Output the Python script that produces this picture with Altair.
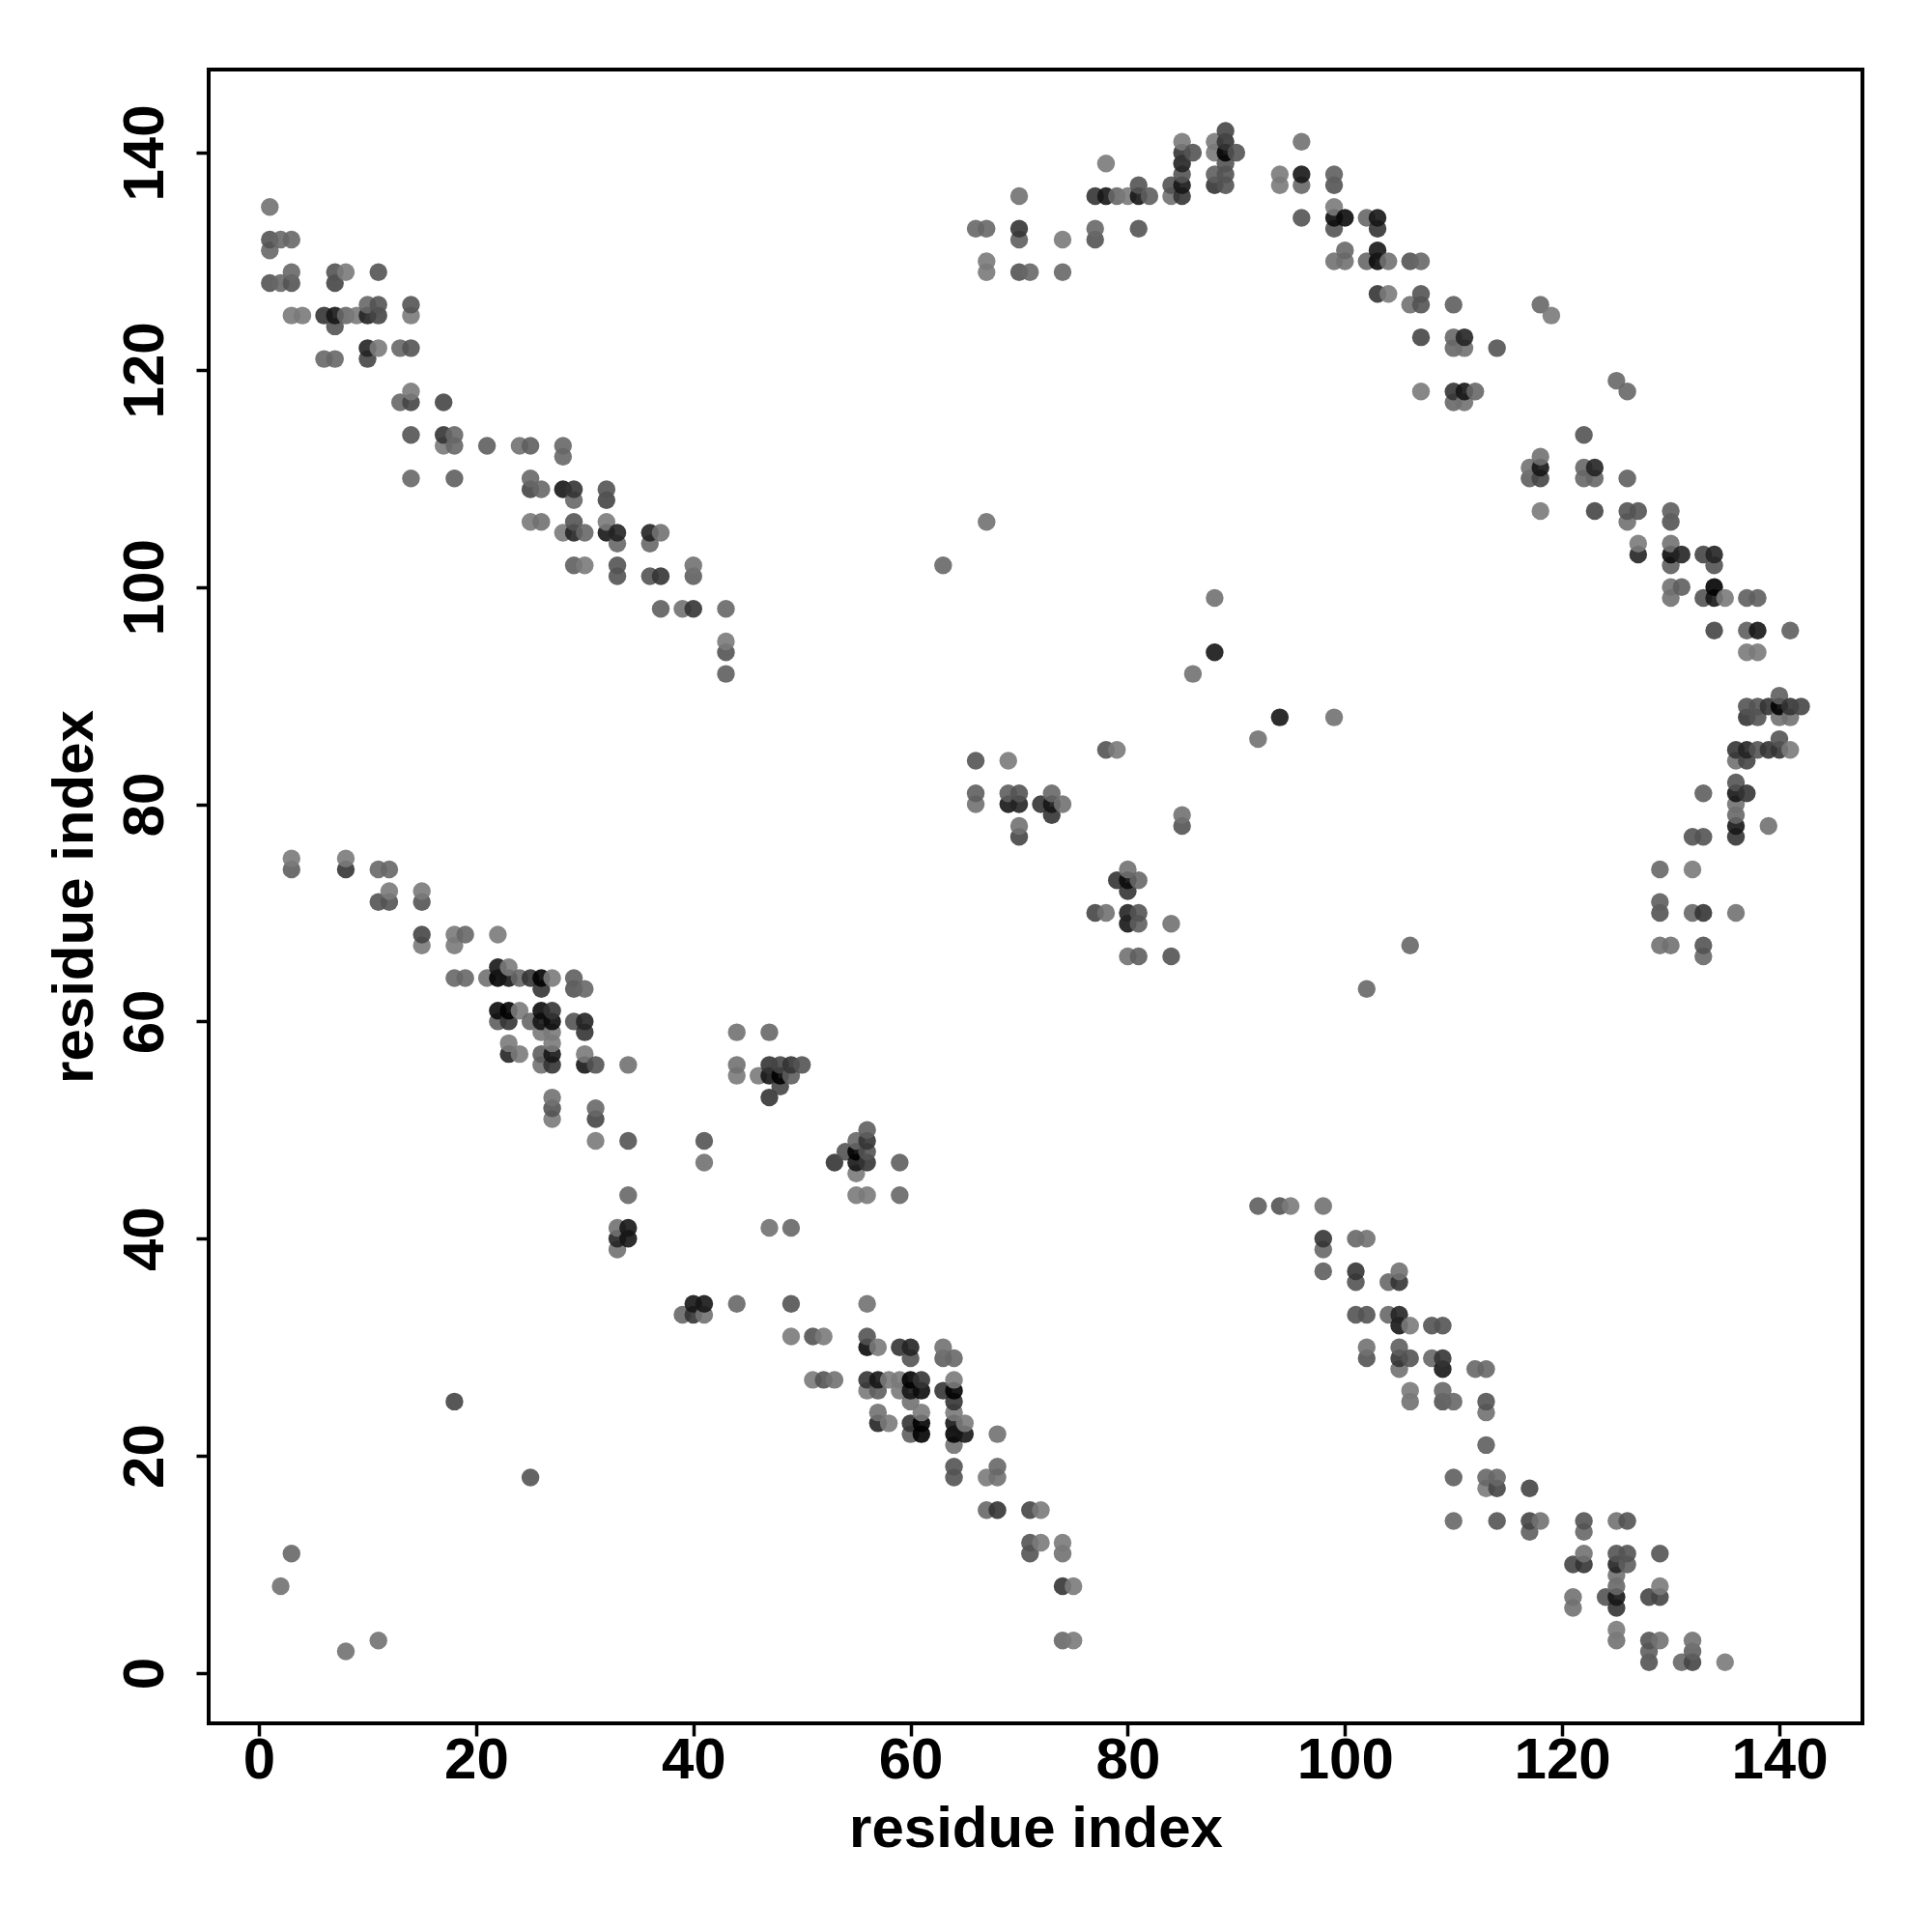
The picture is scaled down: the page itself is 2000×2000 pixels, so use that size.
import altair as alt
import pandas as pd

# residue contacts, one row per y value: (y, x values, shade levels 1 = lightest .. 6 = darkest)
ROWS = [
 (142,[89],[3.5]),
 (141,[85,88,89,96],[1,1,4,1.5]),
 (140,[85,86,88,89,90],[4,3,1,6,3]),
 (139,[78,85,89],[1,4.5,3]),
 (138,[85,88,89,94,96,99],[3,2.5,3,1,5,2.5]),
 (137,[81,84,85,88,89,94,96,99],[3,3,5,4,3,1,2,3]),
 (136,[70,77,78,79,80,81,82,84,85],[1.5,4,5,2,1,5,2.5,1.5,4]),
 (135,[1,99],[1.5,1]),
 (134,[96,99,100,102,103],[3,5.5,5.5,2,5]),
 (133,[66,67,70,77,81,99,103],[2,2,4,2,3,3,4]),
 (132,[1,2,3,70,74,77],[3,2,2,2.5,1,3]),
 (131,[1,100,103],[2,2,5]),
 (130,[67,99,100,102,103,104,106,107],[1,1.5,1.5,2,5.5,1.5,3,2]),
 (129,[3,7,8,11,67,70,71,74],[2,3,1,3,1,3,2,2]),
 (128,[1,2,3,7],[3,2,3,3.5]),
 (127,[103,104,107],[4,1,3]),
 (126,[10,11,14,106,107,110,118],[2,3,3,1.5,3,2.5,2]),
 (125,[3,4,6,7,8,9,10,11,14,119],[1,1,4,5,2,1,4.5,3.5,1,1]),
 (124,[7],[3]),
 (123,[107,110,111],[3.5,2,4.5]),
 (122,[10,11,13,14,110,111,114],[4.5,1,2,3,2,1.5,3]),
 (121,[6,7,10],[2,2,3.5]),
 (119,[125],[2]),
 (118,[14,107,110,111,112,126],[1,1,4,5,2,2]),
 (117,[13,14,17,110,111],[2,3.5,3.5,2,1.5]),
 (114,[14,17,18,122],[3,4,2,3]),
 (113,[17,18,21,24,25,28],[1,2,2.5,1.5,2.5,2]),
 (112,[28,118],[2,1.5]),
 (111,[117,118,122,123],[1.5,5,2,4.5]),
 (110,[14,18,25,117,118,122,123,126],[2,2.5,2,2.5,3.5,2,2,2.5]),
 (109,[25,26,28,29,32],[3.5,2,5,4,3]),
 (108,[29,32],[2,3.5]),
 (107,[118,123,126,127,130],[1,3.5,3,3,2.5]),
 (106,[25,26,29,32,67,126,130],[1,1.5,3,1,1.5,1.5,3]),
 (105,[28,29,30,32,33,36,37],[1,4.5,2,5,4.5,4.5,1.5]),
 (104,[33,36,127,130],[2,2,1,1.5]),
 (103,[127,130,131,133,134],[4.5,5.5,4.5,3.5,4.5]),
 (102,[29,30,33,40,63,130,134],[2.5,1,3,1.5,2,2.5,3]),
 (101,[33,36,37,40],[3,3,4,2.5]),
 (100,[130,131,134],[1.5,2.5,6]),
 (99,[88,130,133,134,135,137,138],[1.5,1.5,3,5,1,2.5,2.5]),
 (98,[37,39,40,43],[2.5,1.5,4,2]),
 (96,[134,137,138,141],[3.5,2.5,5,2.5]),
 (95,[43],[1]),
 (94,[43,88,137,138],[3,5,1,1]),
 (92,[43,86],[2.5,1.5]),
 (90,[140],[2.5]),
 (89,[137,138,139,140,141,142],[3,3,4,6,4,3.5]),
 (88,[94,99,137,138,140,141],[5,1.5,4,3,1.5,1.5]),
 (86,[92,140],[1.5,3]),
 (85,[78,79,136,137,138,139,140,141],[3,1,4,4.5,3,4,4,1]),
 (84,[66,69,136,137],[3,1,1.5,3.5]),
 (82,[136],[3]),
 (81,[66,69,70,73,133,136,137],[2.5,2.5,3,2,2.5,5,4]),
 (80,[66,69,70,72,73,74,136],[1.5,5,4.5,4,5,1.5,1.5]),
 (79,[73,85,136],[4,1.5,2]),
 (78,[70,85,136,139],[1.5,3,5,1.5]),
 (77,[70,132,133,136],[3.5,3,3,4]),
 (75,[3,8],[1,1]),
 (74,[3,8,11,12,80,129,132],[2.5,4,2,2,1.5,2,1]),
 (73,[79,80,81],[4,5.5,2]),
 (72,[12,15,80],[1,1,4]),
 (71,[11,12,15,129],[3,3,3,2.5]),
 (70,[77,78,80,81,129,132,133,136],[3.5,1.5,4.5,3,3,2,4,1.5]),
 (69,[80,81,84],[5,2.5,1.5]),
 (68,[15,18,19,22],[3.5,1,2,1]),
 (67,[15,18,106,129,130,133],[1,1,2,1.5,1.5,3]),
 (66,[80,81,84,133],[1.5,2.5,3,2]),
 (65,[22,23],[5,1]),
 (64,[18,19,21,22,23,24,25,26,27,29],[2,2,1.5,6,5,2,4,6,1,2.5]),
 (63,[26,29,30,102],[4,3,2,2]),
 (61,[22,23,24,26,27],[5.5,6,1,5.5,4]),
 (60,[22,23,25,26,27,29,30],[2.5,4,2,5,5.5,3,4.5]),
 (59,[26,27,30,44,47],[1,1,4,1.5,2]),
 (58,[23,27],[1,1]),
 (57,[23,24,26,27,30],[4.5,1,2.5,5,1]),
 (56,[26,27,30,31,34,44,47,48,49,50],[1.5,4,5,3,1.5,1.5,4,3.5,4,3]),
 (55,[44,46,47,48,49],[1,1,5,6,2.5]),
 (54,[48],[3.5]),
 (53,[27,47],[1.5,4]),
 (52,[27,31],[3,2]),
 (51,[27,31],[1,3.5]),
 (50,[56],[2.5]),
 (49,[31,34,41,55,56],[1,3,3,2,4]),
 (48,[54,55,56],[3,6,3]),
 (47,[41,53,55,56,59],[1.5,4,5,4,2.5]),
 (46,[55],[1]),
 (44,[34,55,56,59],[2,1,1,2]),
 (43,[92,94,95,98],[2.5,3,1,1.5]),
 (41,[33,34,47,49],[1.5,5,1.5,2]),
 (40,[33,34,98,101,102],[4.5,5,4,2,1.5]),
 (39,[33,98],[1.5,2]),
 (37,[98,101,105],[2.5,4,1.5]),
 (36,[101,104,105],[3,2,4]),
 (34,[40,41,44,49,56],[5,5,2,3,1.5]),
 (33,[39,40,41,101,102,104,105],[2,4,1.5,3,3,2,4.5]),
 (32,[105,106,108,109],[5,1,3,3]),
 (31,[49,51,52,56],[1,3,1,3]),
 (30,[56,57,59,60,63,102,105],[5.5,1,4,4.5,1.5,1.5,2.5]),
 (29,[60,63,64,102,105,106,108,109],[3,2.5,2,3,4,3,2,4]),
 (28,[105,109,112,113],[1.5,5,2,2]),
 (27,[51,52,53,56,57,58,59,60,61,64],[1,3,1.5,4,5,1,1,6,4,1]),
 (26,[56,57,59,60,61,63,64,106,109],[1,2.5,1,5,5.5,4,6,1,2]),
 (25,[18,60,64,106,109,110,113],[3.5,1.5,4,1.5,3,2,3]),
 (24,[57,61,64,113],[1.5,1,1,1.5]),
 (23,[57,58,60,61,64,65],[4.5,1,4,6,5,1]),
 (22,[60,61,64,65,68],[2.5,6,6,5,1.5]),
 (21,[64,113],[1.5,2.5]),
 (19,[64,68],[3,2]),
 (18,[25,64,67,68,110,113,114],[3,3,1,1.5,2.5,2,2]),
 (17,[113,114,117],[1,3.5,3.5]),
 (15,[67,68,71,72],[2,4,3.5,1]),
 (14,[110,114,117,118,122,125,126],[2,3,3.5,1.5,3,1.5,3]),
 (13,[117,122],[2.5,2]),
 (12,[71,72,74],[3,1,1]),
 (11,[3,71,74,122,125,126,129],[2,3,1.5,1.5,3,3,3]),
 (10,[121,122,125,126],[3.5,4,4.5,2.5]),
 (9,[125],[1.5]),
 (8,[2,74,75,125,129],[1.5,4,1,2,1]),
 (7,[121,124,125,128,129],[1.5,3,5,3.5,3.5]),
 (6,[121,125],[1.5,4]),
 (4,[125],[1]),
 (3,[11,74,75,125,128,129,132],[1.5,2,1,1.5,3,1.5,1.5]),
 (2,[8,128,132],[1.5,2.5,2.5]),
 (1,[128,131,132,135],[3,2,3.5,1]),
]

LEVEL_LUMINANCE = {1:135,1.5:127,2:118,2.5:110,3:100,3.5:88,4:72,4.5:58,5:45,5.5:35,6:26}
POINT_OPACITY = 0.9

def fill_for(level):
    g = (LEVEL_LUMINANCE[level] - 255 * (1 - POINT_OPACITY)) / POINT_OPACITY
    g = max(0, int(round(g)))
    return f"#{g:02x}{g:02x}{g:02x}"

records = []
for y, xs, levels in ROWS:
    for x, level in zip(xs, levels):
        records.append({"x": x, "y": y, "fill": fill_for(level)})
df = pd.DataFrame(records).sort_values(["x", "y"]).reset_index(drop=True)

TICKS = [0, 20, 40, 60, 80, 100, 120, 140]
FONT = "Liberation Sans"

def axis(**kw):
    return alt.Axis(values=TICKS, grid=False, domain=False, ticks=True, tickSize=13, tickWidth=3.5,
                    tickColor="black", labelFont=FONT, labelFontSize=60, labelFontWeight="bold",
                    labelColor="black", titleFont=FONT, titleFontSize=60, titleFontWeight="bold",
                    titleColor="black", title="residue index", labelOverlap=False, labelFlush=False, **kw)

chart = (
    alt.Chart(df)
    .mark_circle(size=340, opacity=POINT_OPACITY, strokeWidth=0)
    .encode(
        x=alt.X("x:Q", scale=alt.Scale(domain=[-4.63, 147.65], nice=False, zero=False),
                axis=axis(labelPadding=-4, titlePadding=12)),
        y=alt.Y("y:Q", scale=alt.Scale(domain=[-4.63, 147.65], nice=False, zero=False),
                axis=axis(labelAngle=270, labelAlign="center", labelBaseline="bottom",
                          labelPadding=22, titlePadding=12)),
        color=alt.Color("fill:N", scale=None, legend=None),
    )
    .properties(width=1712, height=1712, background="white",
                autosize=alt.AutoSizeParams(type="none"),
                padding={"left": 208, "top": 64, "right": 64, "bottom": 208})
    .configure_view(stroke="black", strokeWidth=4, fill="white")
)

chart.save("out.html", embed_options={"renderer": "svg", "actions": False})
